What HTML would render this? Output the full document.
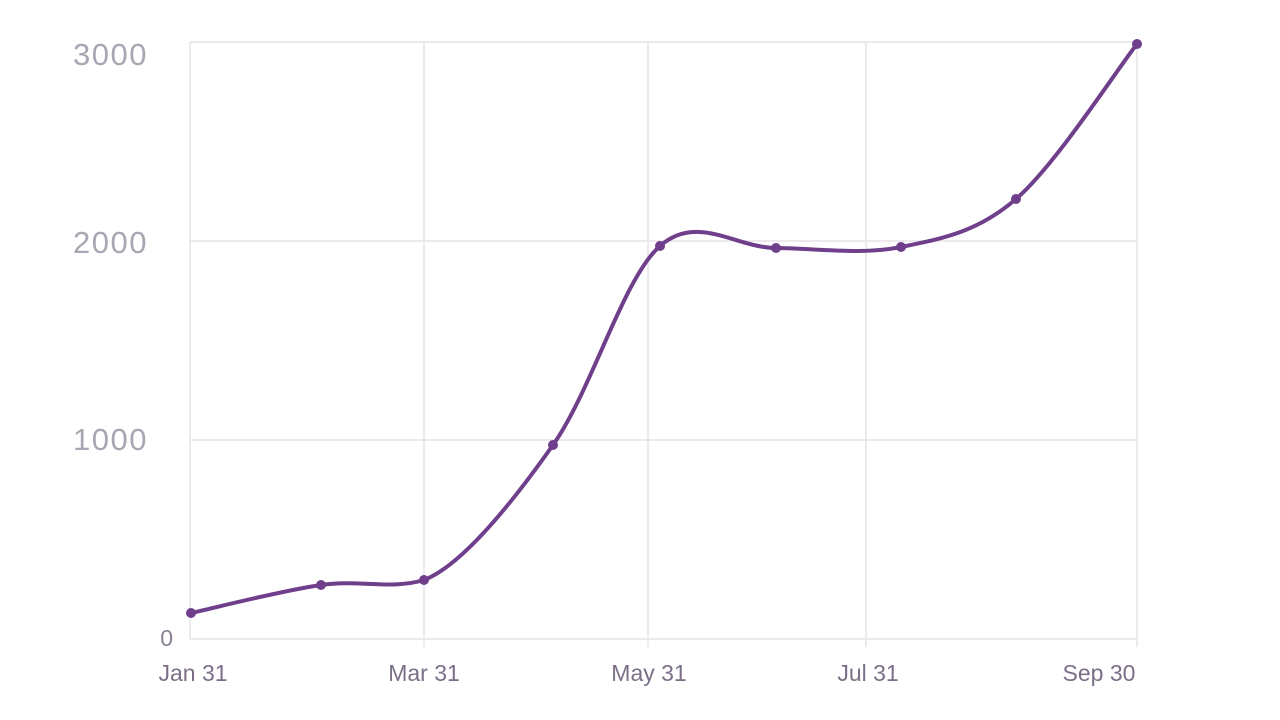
<!DOCTYPE html>
<html><head><meta charset="utf-8"><style>
html,body{margin:0;padding:0;background:#fff;}
svg{display:block;}
</style></head><body>
<svg width="1280" height="720" viewBox="0 0 1280 720" xmlns="http://www.w3.org/2000/svg">
<g stroke="#e6e4e8" stroke-width="1.5" fill="none">
<line x1="190" y1="42" x2="1137" y2="42"/>
<line x1="190" y1="241" x2="1137" y2="241"/>
<line x1="190" y1="440" x2="1137" y2="440"/>
<line x1="190" y1="639" x2="1137" y2="639"/>
<line x1="190" y1="42" x2="190" y2="639"/>
<line x1="424" y1="42" x2="424" y2="647"/>
<line x1="648" y1="42" x2="648" y2="647"/>
<line x1="866" y1="42" x2="866" y2="647"/>
<line x1="1137" y1="42" x2="1137" y2="647"/>
</g>
<g font-family="Liberation Sans, sans-serif" fill="#aaa5b2" font-size="31" text-anchor="end" letter-spacing="1.5">
<text x="148" y="65">3000</text>
<text x="148" y="253">2000</text>
<text x="148" y="450">1000</text>
<text x="173" y="646" font-size="23" fill="#8a7f94" letter-spacing="0">0</text>
</g>
<g font-family="Liberation Sans, sans-serif" fill="#7b6f88" font-size="23" text-anchor="middle">
<text x="193" y="681">Jan 31</text>
<text x="424" y="681">Mar 31</text>
<text x="649" y="681">May 31</text>
<text x="868" y="681">Jul 31</text>
<text x="1099" y="681">Sep 30</text>
</g>
<path fill="none" stroke="#6f3f8b" stroke-width="4" stroke-linecap="round"
d="M191,613 C212.7,608.3 282.2,590.5 321,585 C359.8,579.5 390,590 424,580 C462.7,565 513.7,500.7 553,445 C592.3,389.3 622.8,278.8 660,246 C697.2,213.2 735.8,247.8 776,248 C816.2,248.2 861,255.2 901,247 C941,238.8 976.7,232.8 1016,199 C1055.3,165.2 1116.8,69.8 1137,44"/>
<g fill="#6f3f8b">
<circle cx="191" cy="613" r="5"/><circle cx="321" cy="585" r="5"/><circle cx="424" cy="580" r="5"/>
<circle cx="553" cy="445" r="5"/><circle cx="660" cy="246" r="5"/><circle cx="776" cy="248" r="5"/>
<circle cx="901" cy="247" r="5"/><circle cx="1016" cy="199" r="5"/><circle cx="1137" cy="44" r="5"/>
</g>
</svg>
</body></html>
